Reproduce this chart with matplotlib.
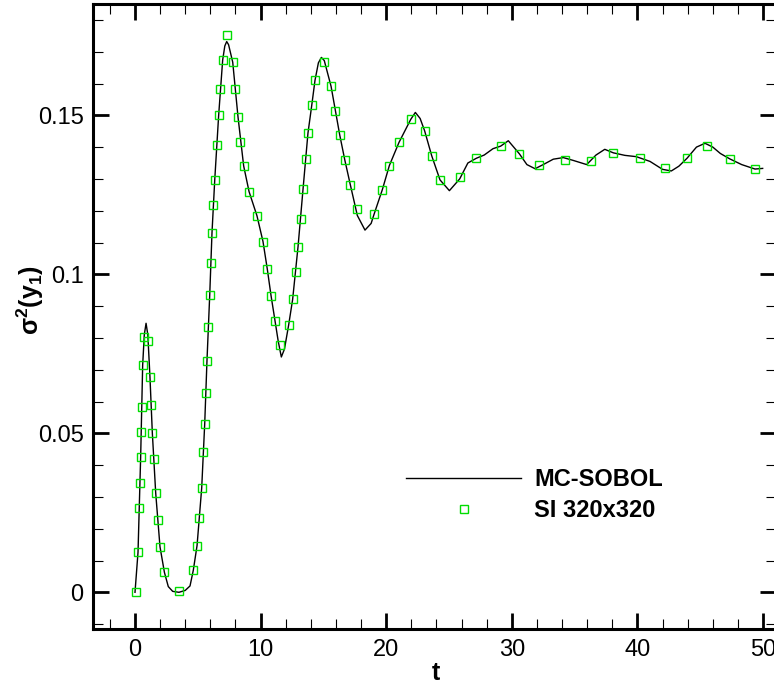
#!/usr/bin/env python3
"""Variance of y1 over time: MC-SOBOL reference vs SI 320x320."""

import matplotlib
matplotlib.use("Agg")
import matplotlib.pyplot as plt
from matplotlib.ticker import MultipleLocator, FuncFormatter

plt.rcParams["font.family"] = ["Liberation Sans", "DejaVu Sans"]
plt.rcParams["mathtext.fontset"] = "custom"
plt.rcParams["mathtext.bf"] = "Liberation Sans:bold"
plt.rcParams["mathtext.rm"] = "Liberation Sans"

# ---- Data ----
mc_t = [0.0, 0.24, 0.45, 0.61, 0.74, 0.88, 1.02, 1.19, 1.38, 1.65, 1.99, 2.34,
        2.65, 3.0, 3.5, 4.0, 4.38, 4.64, 4.94, 5.31, 5.55, 5.73, 5.95, 6.13,
        6.35, 6.66, 6.98, 7.15, 7.30, 7.45, 7.78, 8.20, 8.65, 9.08, 9.71, 10.19,
        10.53, 10.83, 11.15, 11.40, 11.65, 11.90, 12.23, 12.55, 12.98, 13.38,
        13.77, 14.07, 14.33, 14.60, 14.84, 15.07, 15.61, 16.30, 16.70, 17.14,
        17.70, 18.31, 18.80, 19.00, 19.69, 20.25, 21.02, 21.95, 22.32, 22.70,
        23.06, 23.62, 24.28, 25.03, 25.85, 26.5, 27.18, 27.8, 28.5, 29.11,
        29.72, 30.60, 31.20, 31.85, 32.5, 33.3, 34.1, 34.9, 35.96, 36.7, 37.4,
        38.08, 39.0, 39.9, 41.0, 42.0, 42.7, 43.3, 43.95, 44.7, 45.38, 46.0,
        46.6, 47.35, 48.3, 49.36, 49.97]
mc_var = [0.0, 0.0126, 0.0425, 0.0714, 0.0810, 0.0846, 0.0810, 0.0678, 0.0501,
          0.0311, 0.0143, 0.0063, 0.0018, 0.0003, 0.0, 0.0006, 0.0020, 0.0069,
          0.0147, 0.0328, 0.0530, 0.0728, 0.0936, 0.1131, 0.1298, 0.1500,
          0.1674, 0.1718, 0.1732, 0.1722, 0.1667, 0.1495, 0.1341, 0.1260,
          0.1184, 0.1103, 0.1017, 0.0933, 0.0853, 0.0790, 0.0740, 0.0765,
          0.0840, 0.0921, 0.1087, 0.1269, 0.1444, 0.1531, 0.1610, 0.1665,
          0.1682, 0.1672, 0.1591, 0.1438, 0.1360, 0.1282, 0.1185, 0.1139,
          0.1160, 0.1185, 0.1266, 0.1342, 0.1415, 0.1487, 0.1509, 0.1490,
          0.1451, 0.1373, 0.1297, 0.1263, 0.1300, 0.1350, 0.1365, 0.1375,
          0.1395, 0.1403, 0.1420, 0.1379, 0.1345, 0.1332, 0.1345, 0.1362,
          0.1367, 0.1358, 0.1345, 0.1375, 0.1393, 0.1382, 0.1374, 0.1370,
          0.1355, 0.1330, 0.1325, 0.1340, 0.1365, 0.1400, 0.1412, 0.1400,
          0.1380, 0.1363, 0.1345, 0.1331, 0.1333]

si_t = [0.05, 0.24, 0.32, 0.37, 0.45, 0.48, 0.53, 0.61, 0.74, 1.06, 1.19, 1.27,
        1.38, 1.49, 1.65, 1.81, 1.99, 2.34, 3.53, 4.64, 4.94, 5.12, 5.31, 5.44,
        5.55, 5.65, 5.73, 5.84, 5.95, 6.03, 6.13, 6.24, 6.35, 6.50, 6.66, 6.77,
        6.98, 7.32, 7.78, 7.99, 8.20, 8.39, 8.65, 9.08, 9.71, 10.19, 10.53,
        10.83, 11.15, 11.57, 12.23, 12.55, 12.79, 12.98, 13.19, 13.38, 13.59,
        13.77, 14.07, 14.33, 15.07, 15.61, 15.90, 16.30, 16.70, 17.14, 17.70,
        19.00, 19.69, 20.25, 21.02, 21.95, 23.06, 23.62, 24.28, 25.85, 27.18,
        29.11, 30.60, 32.17, 34.24, 36.31, 38.08, 40.18, 42.20, 43.95, 45.54,
        47.35, 49.36]
si_var = [0.0, 0.0126, 0.0264, 0.0344, 0.0425, 0.0505, 0.0583, 0.0714, 0.0804,
          0.0791, 0.0678, 0.0590, 0.0501, 0.0418, 0.0311, 0.0226, 0.0143,
          0.0063, 0.0005, 0.0069, 0.0147, 0.0235, 0.0328, 0.0441, 0.0530,
          0.0627, 0.0728, 0.0833, 0.0936, 0.1036, 0.1131, 0.1219, 0.1298,
          0.1406, 0.1500, 0.1583, 0.1674, 0.1753, 0.1667, 0.1583, 0.1495,
          0.1416, 0.1341, 0.1260, 0.1184, 0.1103, 0.1017, 0.0933, 0.0853,
          0.0778, 0.0840, 0.0921, 0.1007, 0.1087, 0.1175, 0.1269, 0.1362,
          0.1444, 0.1531, 0.1610, 0.1667, 0.1591, 0.1515, 0.1438, 0.1360,
          0.1282, 0.1205, 0.1191, 0.1266, 0.1342, 0.1415, 0.1487, 0.1451,
          0.1373, 0.1297, 0.1305, 0.1365, 0.1403, 0.1379, 0.1344, 0.1359,
          0.1357, 0.1382, 0.1367, 0.1334, 0.1365, 0.1403, 0.1363, 0.1332]

# ---- Plot ----
W, H = 774, 687
fig = plt.figure(figsize=(W / 100, H / 100), dpi=100, facecolor="white")
ax = fig.add_axes([93.3 / W, 1 - 629 / H, (775.6 - 93.3) / W, (629 - 4) / H])

ax.plot(mc_t, mc_var, color="black", linewidth=1.0, label="MC-SOBOL")
ax.plot(si_t, si_var, linestyle="none", marker="s", markersize=5.5,
        markerfacecolor="none", markeredgecolor="#00dd00", markeredgewidth=1.0,
        label="SI 320x320")

ax.set_xlim(-3.32, 51.0)
ax.set_ylim(-0.01154, 0.185)

ax.xaxis.set_major_locator(MultipleLocator(10))
ax.xaxis.set_minor_locator(MultipleLocator(2))
ax.yaxis.set_major_locator(MultipleLocator(0.05))
ax.yaxis.set_minor_locator(MultipleLocator(0.01))
ax.yaxis.set_major_formatter(FuncFormatter(lambda v, p: f"{v:.2f}".rstrip("0").rstrip(".")))

for s in ax.spines.values():
    s.set_linewidth(2.2)
ax.tick_params(which="both", direction="in", top=True, right=True)
ax.tick_params(which="major", length=11.5, width=2.0, labelsize=17)
ax.tick_params(which="minor", length=7, width=0.8)
ax.tick_params(axis="x", which="major", pad=7)
ax.tick_params(axis="y", which="major", pad=7)

ax.set_xlabel("t", fontsize=18, fontweight="bold")
ax.xaxis.set_label_coords(0.502, -0.070)
ax.xaxis.label.set_verticalalignment("center")
ax.set_ylabel(r"σ$^{\mathbf{2}}$(y$_{\mathbf{1}}$)", fontsize=18, fontweight="bold")
ax.yaxis.set_label_coords(-0.093, 0.526)
ax.yaxis.label.set_verticalalignment("center")

ax.legend(loc="upper left", bbox_to_anchor=(405.7 / W, 1 - 468 / H),
          bbox_transform=fig.transFigure, frameon=False, borderpad=0,
          borderaxespad=0, handlelength=4.9, handletextpad=0.55,
          labelspacing=0.33, prop={"size": 17, "weight": "bold"})

fig.savefig("out.png", dpi=100, facecolor="white")
plt.close(fig)
